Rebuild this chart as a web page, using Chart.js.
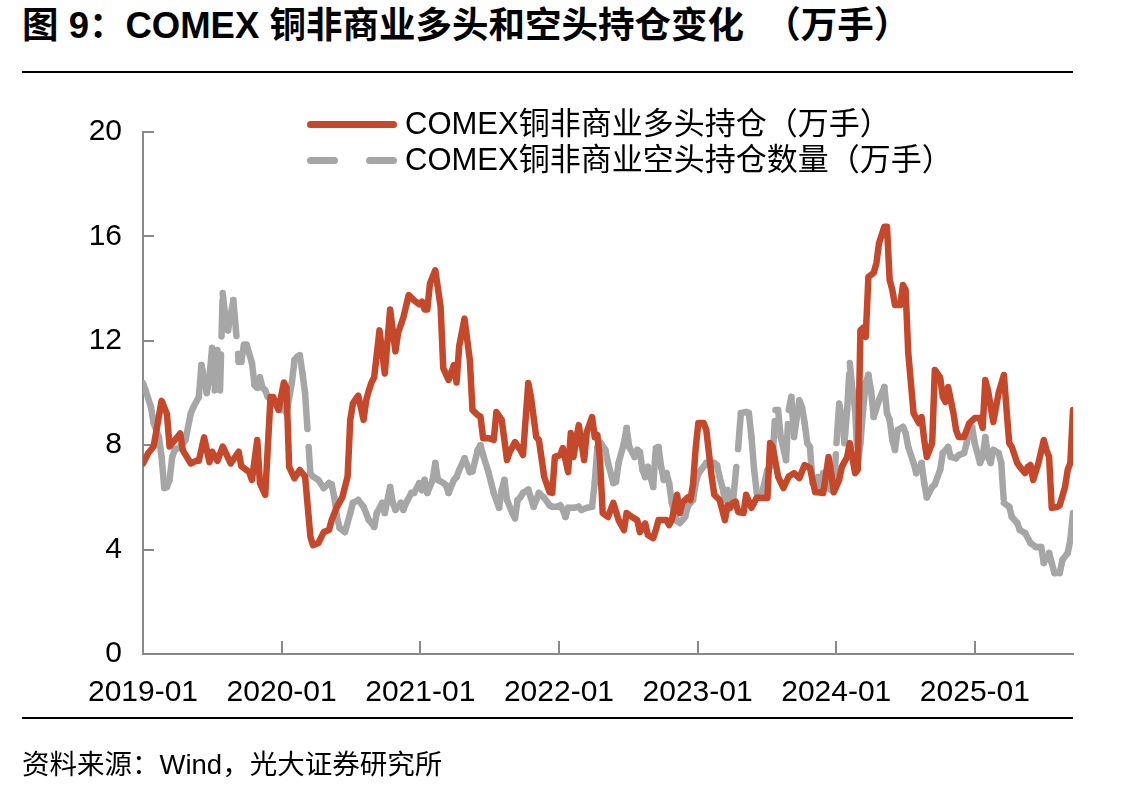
<!DOCTYPE html>
<html><head><meta charset="utf-8">
<script src="https://cdn.jsdelivr.net/npm/chart.js@4.4.1/dist/chart.umd.min.js"></script>
<style>
html,body{margin:0;padding:0;background:#fff;}
#wrap{position:relative;width:1143px;height:793px;overflow:hidden;font-family:"Liberation Sans","Noto Sans CJK SC",sans-serif;color:#000;}
#title{position:absolute;left:22px;top:3px;font-size:36.5px;font-weight:bold;white-space:nowrap;line-height:46px;}
.rule{position:absolute;left:22px;width:1051px;height:2px;background:#000;}
#src{position:absolute;left:22px;top:747px;font-size:27.5px;line-height:36px;white-space:nowrap;}
.lg{position:absolute;left:405px;font-size:31px;line-height:36px;white-space:nowrap;}
.sw{position:absolute;height:7px;border-radius:4px;}
canvas{position:absolute;left:0;top:0;}
</style></head>
<body>
<div id="wrap">
  <div id="title">图 9：COMEX 铜非商业多头和空头持仓变化 &nbsp;（万手）</div>
  <div class="rule" style="top:71px"></div>
  <canvas id="c" width="1143" height="793"></canvas>
  <div class="sw" style="left:307px;top:121px;width:90px;background:#C5482A"></div>
  <div class="lg" style="top:106px">COMEX铜非商业多头持仓（万手）</div>
  <div class="sw" style="left:307px;top:157px;width:31px;background:#A6A6A6"></div>
  <div class="sw" style="left:366px;top:157px;width:31px;background:#A6A6A6"></div>
  <div class="lg" style="top:142px">COMEX铜非商业空头持仓数量（万手）</div>
  <div class="rule" style="top:717px"></div>
  <div id="src">资料来源：Wind，光大证券研究所</div>
</div>
<script>
// weeks since the first week of 2019
const yearLabels = ['2019-01','2020-01','2021-01','2022-01','2023-01','2024-01','2025-01'];
const WEEKS_PER_YEAR = 52.18;
const yTicks = [0, 4, 8, 12, 16, 20];

const longWeeks = [0,2,4,7,9,10,12,14,15,18,20,21,23,25,26,28,30,33,36,37,40,41,43,44,46,48,49,51,53,54,55,57,59,61,63,64,66,68,70,71,73,75,77,78,79,81,83,84,85,86,87,89,91,93,95,96,98,100,102,104,105,106,107,108,110,112,113,115,117,118,119,121,123,124,126,127,128,130,132,133,135,137,138,140,142,143,145,146,148,149,151,153,154,155,157,158,160,161,162,164,166,167,169,170,171,172,173,175,177,179,181,182,184,186,187,189,190,192,193,194,197,198,199,201,202,203,204,205,206,207,208,209,211,212,214,215,217,218,219,220,221,222,223,224,226,227,229,230,231,233,235,236,237,239,241,243,245,247,249,251,253,254,256,258,259,260,262,263,265,266,268,269,270,271,272,273,275,276,277,279,280,281,282,283,285,286,287,288,290,292,293,294,295,297,298,300,301,302,303,305,306,307,309,310,311,313,315,316,317,318,320,322,324,325,326,327,329,330,332,333,334,335,337,339,340,341,342,344,345,347,348,349,350];
const longValues = [7.3,7.7,7.95,9.7,9.2,7.95,8.2,8.45,7.8,7.3,7.4,7.4,8.3,7.35,7.75,7.4,7.95,7.3,7.75,7.2,6.97,6.67,8.2,6.55,6.1,9.85,9.85,9.35,10.4,10.2,7.17,6.73,7.05,6.8,4.49,4.17,4.25,4.67,4.75,5.13,5.64,6.0,6.8,8.97,9.6,9.9,8.97,9.73,10.1,10.4,10.6,12.4,10.75,13.2,11.6,12.3,12.9,13.75,13.55,13.4,13.5,13.2,13.2,14.2,14.7,13.3,10.95,10.5,11.07,10.4,11.8,12.85,11.26,9.35,9.15,9.1,8.27,8.27,8.2,9.27,8.97,7.43,7.74,8.12,7.82,7.62,10.38,9.85,8.31,8.2,6.78,6.2,6.17,7.55,7.62,7.89,6.97,8.47,7.55,8.77,7.43,8.5,9.08,8.31,8.39,7.43,5.4,5.25,5.79,5.13,4.75,5.4,5.25,5.13,4.67,5.0,4.56,4.44,4.75,5.13,5.13,4.94,5.13,6.1,5.4,5.79,5.9,6.0,5.9,6.5,7.9,8.85,8.85,8.58,6.8,6.1,5.9,5.52,5.13,5.7,5.6,5.79,5.84,5.44,5.4,6.1,5.6,5.79,6.0,5.98,5.98,8.08,7.93,6.8,6.36,6.8,6.93,6.74,7.24,7.13,6.2,6.2,6.17,7.55,6.93,6.2,6.67,7.17,7.55,8.08,6.93,7.05,12.4,12.5,12.15,14.45,14.6,14.97,15.74,16.37,16.37,14.33,13.95,13.37,13.37,14.14,13.95,11.53,9.23,8.85,9.08,8.2,7.55,8.08,10.88,10.6,9.85,9.66,10.23,9.23,8.58,8.31,8.31,8.58,8.85,9.04,9.04,8.66,10.5,10.1,8.89,10.0,10.69,9.35,8.08,7.93,7.32,7.17,6.93,7.17,7.24,6.67,7.32,8.2,7.82,7.55,5.6,5.63,5.7,6.4,7.05,7.32,9.35];

const shortWeeks = [0,1,3,4,6,7,8,9,10,11,12,14,16,18,19,21,22,23,24,25,26,27,28,29,30,31,32,34,36,37,38,39,41,42,43,44,45,46,47,49,51,52,53,54,56,57,58,59,60,61,63,64,66,68,70,71,72,73,74,76,78,79,81,83,85,86,87,88,90,91,93,94,95,97,98,99,101,102,104,105,106,107,109,110,111,113,114,115,117,118,119,121,123,124,126,127,128,130,132,134,135,136,137,139,140,141,142,143,145,146,147,148,149,151,153,154,156,157,158,159,160,162,164,165,167,169,170,171,172,174,175,177,178,179,181,182,183,185,186,187,188,189,190,192,193,194,195,196,197,198,199,200,201,202,203,204,205,206,207,208,209,210,212,214,215,216,217,218,219,220,221,222,224,225,227,228,229,230,231,233,235,236,237,238,239,240,242,243,244,245,247,248,249,250,251,252,254,255,256,258,259,260,261,262,263,264,265,266,267,268,269,270,271,272,273,274,275,277,279,280,281,282,283,284,286,287,288,290,291,293,294,295,297,298,300,301,303,304,306,307,309,310,311,312,313,315,316,317,318,319,320,322,323,324,326,327,329,330,332,334,336,338,339,341,342,343,345,346,348,349,350];
const shortValues = [10.38,10.1,9.46,8.85,8.31,7.55,6.36,6.4,6.67,7.55,7.82,7.93,8.2,9.23,9.46,9.85,11.07,10.6,10.0,10.6,11.72,10.1,11.65,10.1,13.83,12.9,12.4,13.56,11.2,11.2,11.85,11.85,11.15,10.3,10.2,10.6,10.2,10.1,9.85,9.66,9.46,9.35,9.85,9.23,10.38,11.26,11.38,11.45,10.77,10.0,6.9,6.8,6.67,6.36,6.55,6.5,6.0,5.25,4.83,4.67,5.4,5.79,5.9,5.64,5.13,5.02,4.87,5.4,5.79,5.4,6.4,5.79,5.52,5.79,5.52,5.79,6.17,6.17,6.55,6.28,6.67,6.17,6.67,7.32,6.67,6.55,6.47,6.17,6.67,6.78,7.05,7.5,6.97,7.0,7.82,8.0,7.62,6.97,6.17,5.6,6.28,6.67,5.9,5.4,5.2,5.9,6.0,6.17,6.3,5.98,5.64,5.9,6.17,5.98,5.7,5.64,5.64,5.7,5.52,5.25,5.6,5.6,5.64,5.52,5.6,5.64,6.55,7.93,8.12,7.82,7.32,6.55,6.6,7.32,8.08,8.66,7.93,7.55,7.82,7.74,7.05,6.78,7.17,6.4,7.89,7.93,7.17,6.67,6.93,6.55,5.8,5.4,5.1,5.02,5.13,5.25,5.64,5.79,5.9,6.55,6.9,7.05,7.32,7.17,7.32,7.24,6.78,6.4,5.9,6.28,5.79,5.79,7.93,9.23,9.27,9.23,8.31,7.05,6.17,6.17,7.05,7.17,7.55,9.35,9.35,8.31,7.43,9.35,9.85,8.31,9.73,9.46,8.85,8.08,7.93,6.55,6.78,6.4,6.93,6.4,6.28,6.28,8.08,9.6,9.08,8.08,9.35,11.15,10.1,9.35,7.32,8.08,9.35,10.38,10.7,10.1,9.08,9.73,10.23,9.23,8.97,8.2,7.82,8.58,8.7,8.47,7.93,7.32,6.93,7.32,6.55,6.0,6.4,6.5,7.05,7.7,7.93,7.55,7.5,7.62,7.7,8.08,8.58,8.7,8.08,7.32,7.55,8.31,7.55,7.32,7.82,7.7,7.32,5.79,5.64,5.25,5.02,4.75,4.63,4.25,4.1,4.1,3.49,3.87,3.49,3.1,3.1,3.6,3.87,4.37,5.4];

const RED = '#C5482A', GRAY = '#A6A6A6', AXIS = '#898989';
const toPts = (ws, vs) => ws.map((w, i) => ({x: w, y: vs[i]}));

const innerTicks = {
  id: 'innerTicks',
  beforeDatasetsDraw(chart) {
    const {ctx, chartArea: a, scales: {x, y}} = chart;
    ctx.save();
    ctx.strokeStyle = AXIS; ctx.lineWidth = 2;
    y.ticks.forEach(t => { const py = Math.round(y.getPixelForValue(t.value)); ctx.beginPath(); ctx.moveTo(a.left, py); ctx.lineTo(a.left + 11, py); ctx.stroke(); });
    x.ticks.forEach(t => { const px = Math.round(x.getPixelForValue(t.value)); ctx.beginPath(); ctx.moveTo(px, a.bottom); ctx.lineTo(px, a.bottom - 13); ctx.stroke(); });
    ctx.restore();
  }
};

new Chart(document.getElementById('c'), {
  type: 'line',
  data: {
    datasets: [
      {label: 'COMEX铜非商业多头持仓（万手）', data: toPts(longWeeks, longValues), borderColor: RED, borderWidth: 6.5, borderJoinStyle: 'round', borderCapStyle: 'round', pointRadius: 0, tension: 0, order: 1},
      {label: 'COMEX铜非商业空头持仓数量（万手）', data: toPts(shortWeeks, shortValues), borderColor: GRAY, borderWidth: 6.5, borderJoinStyle: 'round', borderCapStyle: 'round', borderDash: [36, 18], pointRadius: 0, tension: 0, order: 2,
        segment: { borderDashOffset: c => c.p0DataIndex * 1e-6 }}
    ]
  },
  options: {
    responsive: false, animation: false, devicePixelRatio: 1,
    layout: {padding: {top: 132, right: 70, left: 0, bottom: 0}},
    plugins: {legend: {display: false}, tooltip: {enabled: false}},
    scales: {
      x: {
        type: 'linear', min: 0, max: 350,
        afterBuildTicks: ax => { ax.ticks = yearLabels.map((l, k) => ({value: k * WEEKS_PER_YEAR})); },
        afterFit: s => { s.height = 139; },
        grid: {drawOnChartArea: false, drawTicks: false},
        border: {display: true, color: AXIS, width: 2},
        ticks: {autoSkip: false, maxRotation: 0, padding: 21, color: '#000', font: {family: 'Liberation Sans', size: 30},
          callback: (v, i) => yearLabels[i]}
      },
      y: {
        min: 0, max: 20,
        afterBuildTicks: ax => { ax.ticks = yTicks.map(v => ({value: v})); },
        afterFit: s => { s.width = 143; },
        grid: {drawOnChartArea: false, drawTicks: false},
        border: {display: true, color: AXIS, width: 2},
        ticks: {padding: 21, color: '#000', font: {family: 'Liberation Sans', size: 30}, callback: v => String(v)}
      }
    }
  },
  plugins: [innerTicks]
});
</script>
</body></html>
